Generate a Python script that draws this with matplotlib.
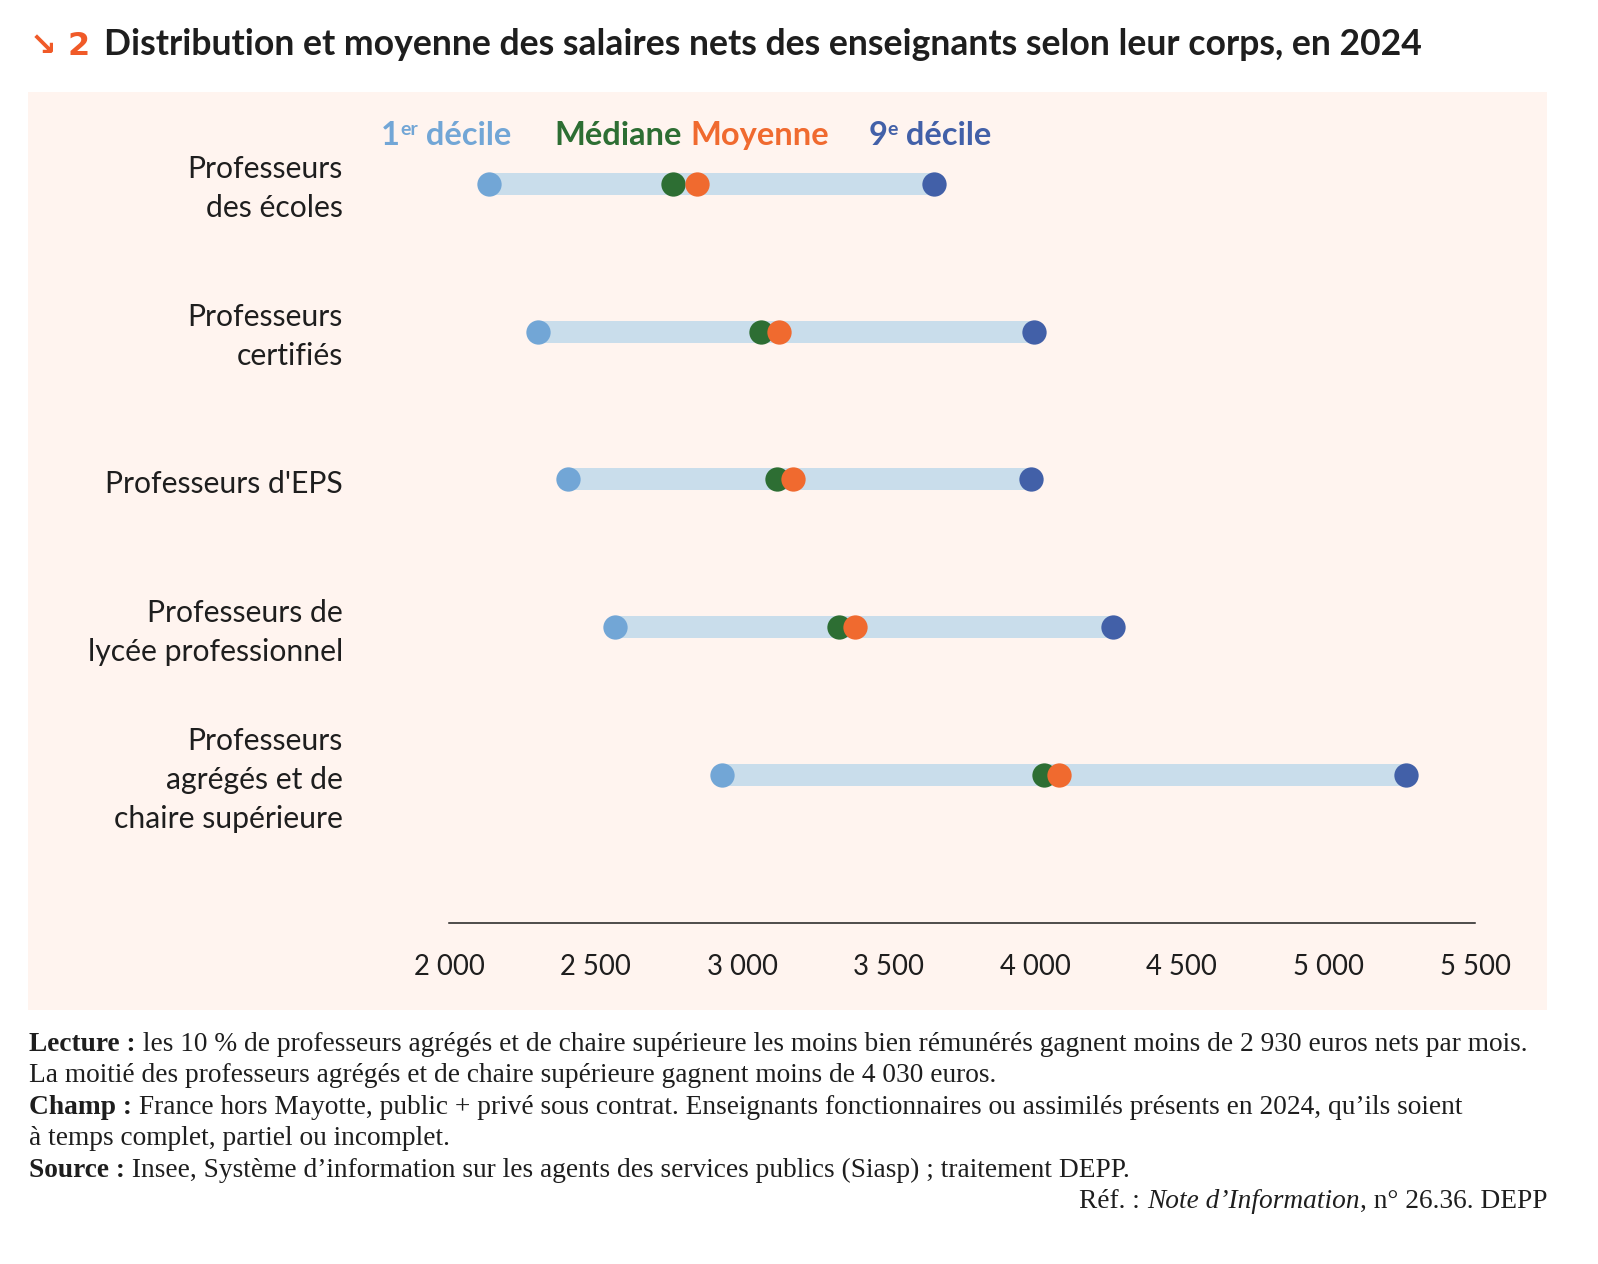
import matplotlib
matplotlib.use("Agg")
import matplotlib.pyplot as plt
from matplotlib.patches import Rectangle
from matplotlib.ticker import FuncFormatter

categories = ["Professeurs\ndes écoles", "Professeurs\ncertifiés", "Professeurs d'EPS",
              "Professeurs de\nlycée professionnel", "Professeurs\nagrégés et de\nchaire supérieure"]
decile1 = [2135, 2305, 2405, 2565, 2930]
mediane = [2765, 3065, 3120, 3330, 4030]
moyenne = [2845, 3125, 3175, 3385, 4080]
decile9 = [3655, 3995, 3985, 4265, 5265]
xticks = [2000, 2500, 3000, 3500, 4000, 4500, 5000, 5500]

C_D1 = "#72a6d6"
C_MED = "#2d6e33"
C_MOY = "#f06a2f"
C_D9 = "#4260a8"
C_BAR = "#c9ddeb"
C_BG = "#fff4ef"
C_TXT = "#1e1e1e"

W, H = 1598, 1264
fig = plt.figure(figsize=(W / 100, H / 100), dpi=100)
fig.patch.set_facecolor("white")

SANS = ["Lato", "DejaVu Sans"]
SERIF = ["Liberation Serif", "DejaVu Serif"]

# background panel
fig.patches.append(Rectangle((28 / W, 1 - 1010 / H), (1547 - 28) / W, (1010 - 92) / H,
                             transform=fig.transFigure, facecolor=C_BG, edgecolor="none", zorder=-5))

ax = fig.add_axes([449 / W, 1 - 923 / H, (1475 - 449) / W, (923 - 92) / H])
ax.set_zorder(2)
ax.set_facecolor("none")
ax.set_xlim(2000, 5500)
ax.set_ylim(5, -0.62)
ypos = list(range(len(categories)))

bar_h = 22 / 148
ax.barh(ypos, [b - a for a, b in zip(decile1, decile9)], left=decile1, height=bar_h,
        color=C_BAR, zorder=1)
s = 17.5 ** 2
ax.scatter(decile1, ypos, s=s, color=C_D1, zorder=3, linewidths=0)
ax.scatter(decile9, ypos, s=s, color=C_D9, zorder=3, linewidths=0)
ax.scatter(mediane, ypos, s=s, color=C_MED, zorder=4, linewidths=0)
ax.scatter(moyenne, ypos, s=s, color=C_MOY, zorder=5, linewidths=0)

for sp in ["top", "left", "right"]:
    ax.spines[sp].set_visible(False)
ax.spines["bottom"].set_color(C_TXT)
ax.spines["bottom"].set_linewidth(1.1)
ax.set_yticks([])
ax.set_xticks(xticks)
ax.xaxis.set_major_formatter(FuncFormatter(lambda v, p: f"{int(v):,}".replace(",", " ")))
ax.tick_params(axis="x", length=0, pad=22, labelsize=19.8, labelcolor=C_TXT)
for lab in ax.get_xticklabels():
    lab.set_family(SANS)

for y, c in zip(ypos, categories):
    ax.text((343 - 449) / 1026, y + 5 / 148, c, transform=ax.get_yaxis_transform(), ha="right",
            va="center", ma="right", fontsize=21.7, family=SANS, color=C_TXT, linespacing=1.48)

fig.canvas.draw()
r = fig.canvas.get_renderer()


def seq(parts, x, y, ha="left"):
    """place consecutive text pieces; parts = list of (text, kwargs, dy_px)"""
    widths = []
    for t, kw, dy in parts:
        tt = fig.text(0, 0, t, **kw)
        widths.append(tt.get_window_extent(r).width)
        tt.remove()
    total = sum(widths)
    cx = x if ha == "left" else x - total
    for (t, kw, dy), w in zip(parts, widths):
        fig.text(cx / W, 1 - (y - dy) / H, t, ha="left", va="baseline", **kw)
        cx += w


# title
tk = dict(fontsize=25.6, family=SANS, fontweight="bold")
seq([("↘ 2", dict(tk, color="#f05a28", family=["DejaVu Sans"], fontsize=23), 0)], 30, 55)
seq([("Distribution et moyenne des salaires nets des enseignants selon leur corps, en 2024",
      dict(tk, color=C_TXT), 0)], 104, 55)

# legend
lk = dict(fontsize=23.5, family=SANS, fontweight="bold")
sk = dict(fontsize=14, family=SANS, fontweight="bold")
seq([("1", dict(lk, color=C_D1), 0), ("er", dict(sk, color=C_D1), 10), (" décile", dict(lk, color=C_D1), 0)],
    381, 145)
seq([("Médiane", dict(lk, color=C_MED), 0)], 554, 145)
seq([("Moyenne", dict(lk, color=C_MOY), 0)], 690, 145)
seq([("9", dict(lk, color=C_D9), 0), ("e", dict(sk, color=C_D9), 10), (" décile", dict(lk, color=C_D9), 0)],
    869, 145)

# footnotes
fk = dict(fontsize=19.75, family=SERIF, color=C_TXT)
fb = dict(fk, fontweight="bold")
fi = dict(fk, style="italic")
seq([("Lecture :", fb, 0), (" les 10 % de professeurs agrégés et de chaire supérieure les moins bien rémunérés gagnent moins de 2 930 euros nets par mois.", fk, 0)], 29, 1051)
seq([("La moitié des professeurs agrégés et de chaire supérieure gagnent moins de 4 030 euros.", fk, 0)], 29, 1082)
seq([("Champ :", fb, 0), (" France hors Mayotte, public + privé sous contrat. Enseignants fonctionnaires ou assimilés présents en 2024, qu’ils soient", fk, 0)], 29, 1114)
seq([("à temps complet, partiel ou incomplet.", fk, 0)], 29, 1145)
seq([("Source :", fb, 0), (" Insee, Système d’information sur les agents des services publics (Siasp) ; traitement DEPP.", fk, 0)], 29, 1177)
seq([("Réf. : ", fk, 0), ("Note d’Information", fi, 0), (", n° 26.36. DEPP", fk, 0)], 1547, 1208, ha="right")

fig.savefig("out.png", dpi=100, facecolor="white")
